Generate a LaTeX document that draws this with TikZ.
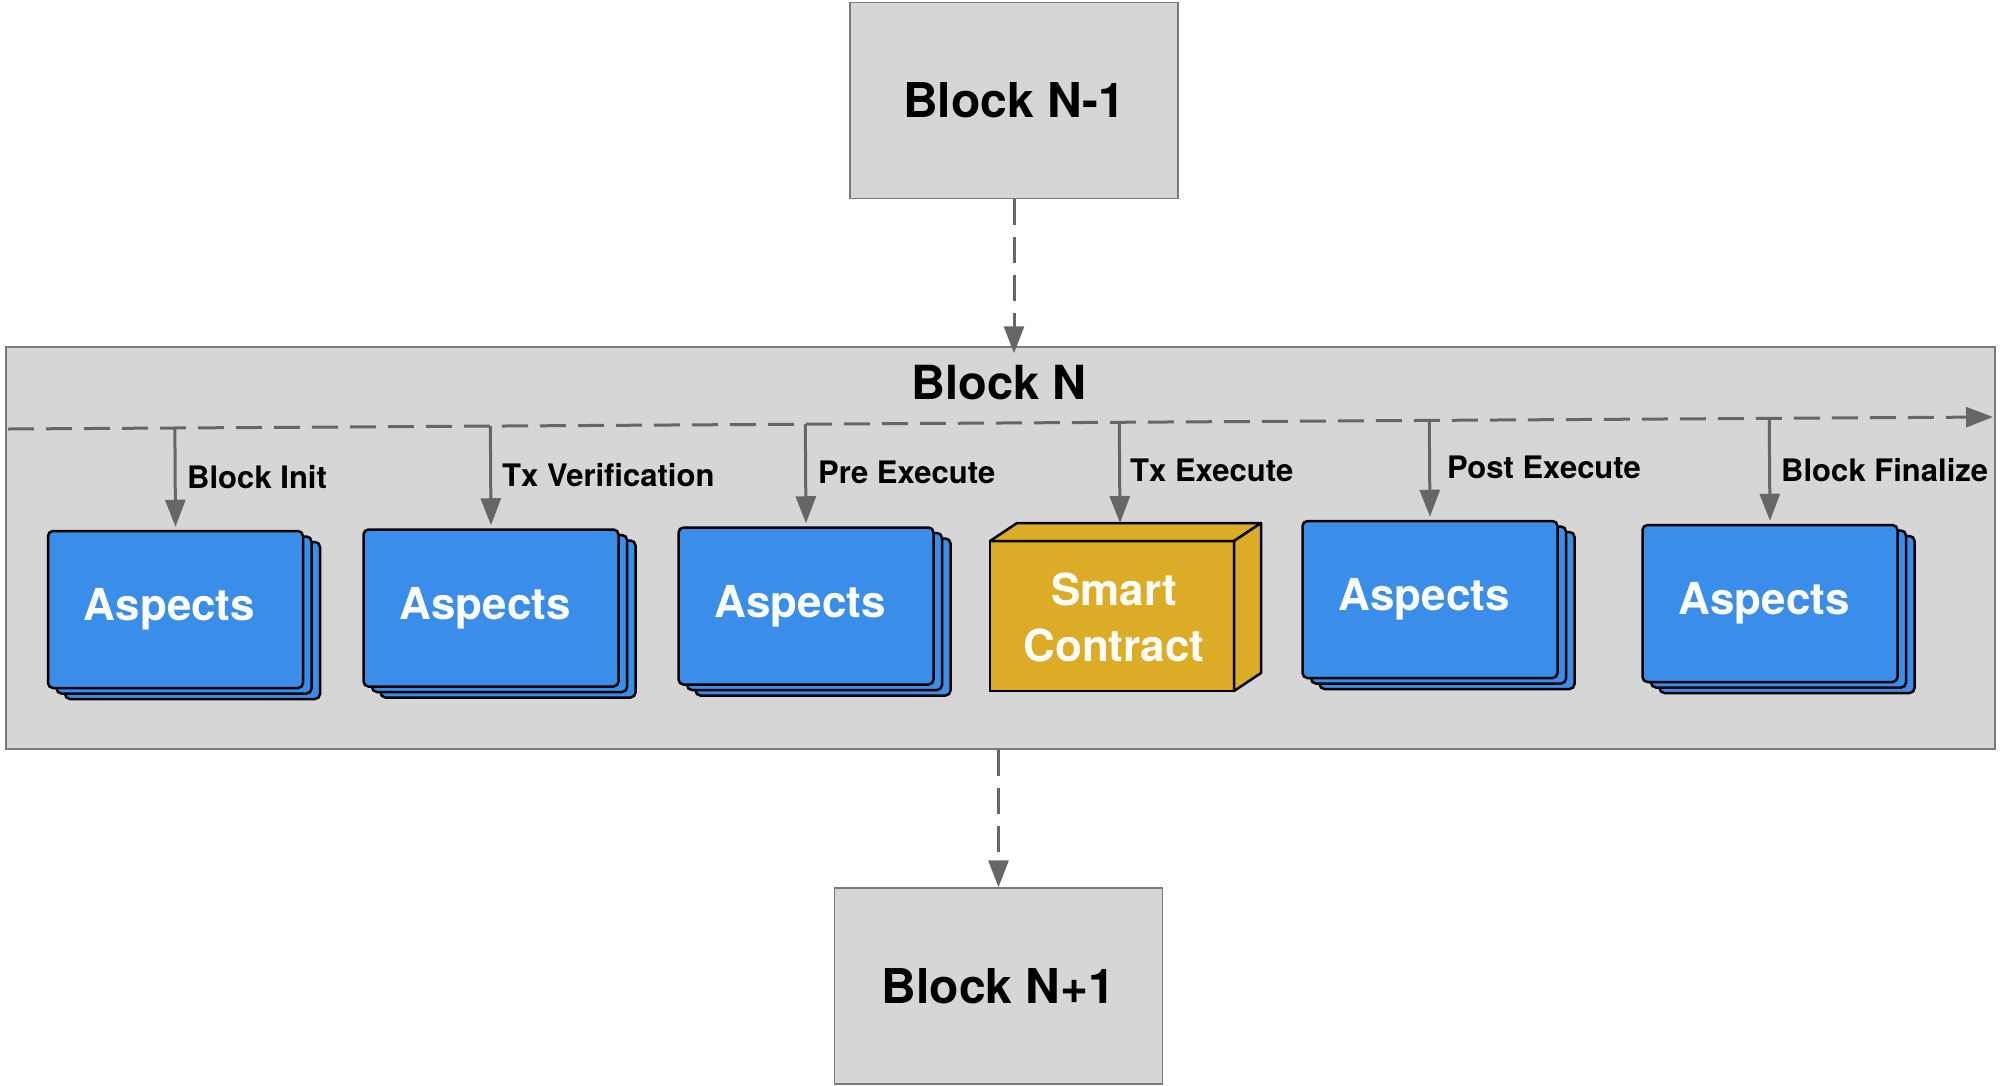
\documentclass[tikz,border=0pt]{standalone}
\usepackage{fontspec}
\setmainfont{TeX Gyre Heros}
\usetikzlibrary{arrows.meta,shadows,calc}
\definecolor{boxgray}{HTML}{D6D6D6}
\definecolor{edgegray}{HTML}{7A7A7A}
\definecolor{arrgray}{HTML}{666666}
\definecolor{aspblue}{HTML}{3B8DEA}
\definecolor{goldbox}{HTML}{DCAC26}
\begin{document}
\begin{tikzpicture}[x=1pt,y=-1pt,
 blockbox/.style={draw=edgegray, line width=1.5pt, fill=boxgray, minimum width=328pt, minimum height=196pt, font=\fontsize{48}{58}\selectfont\bfseries},
 container/.style={draw=edgegray, line width=1.5pt, fill=boxgray, minimum width=1989pt, minimum height=402pt},
 card/.style={draw=black, line width=2.5pt, fill=aspblue, rounded corners=5pt, minimum width=255pt, minimum height=157pt, text=white, font=\fontsize{44}{54}\selectfont\bfseries, double copy shadow={shadow xshift=8.5pt, shadow yshift=-5.5pt}},
 cubeface/.style={draw=black, line width=2.5pt, fill=goldbox, outer sep=0pt},
 lbl/.style={anchor=west, font=\fontsize{31}{36}\selectfont\bfseries, inner sep=0pt},
 dasharr/.style={draw=arrgray, line width=3pt, dash pattern=on 26pt off 12pt, -{Triangle[length=27pt,width=20pt]}},
 solarr/.style={draw=arrgray, line width=3pt, shorten >=3pt, -{Triangle[length=27pt,width=20pt]}}]
\useasboundingbox[fill=white] (0,0) rectangle (2000,1085);

% container
\node[container] (cont) at (1000.5,548) {};
\node[font=\fontsize{47}{56}\selectfont\bfseries] (tN) at (999,383) {Block N};

% outer blocks
\node[blockbox] (bprev) at (1014,100.5) {Block N-1};
\node[blockbox] (bnext) at (998.5,986) {Block N+1};
\coordinate (inN) at ($(bprev |- cont.north)+(0,7)$);
\draw[dasharr] (bprev.south) -- (inN);
\draw[dasharr] (bnext |- cont.south) -- (bnext.north);

% timeline
\coordinate (ls) at (8,429);
\coordinate (le) at (1993,417);
\draw[dasharr] (ls) -- (le);

% cards
\node[card] (a1) at (175.5,609.5) {\kern-12pt Aspects};
\node[card] (a2) at (491,608) {\kern-12pt Aspects};
\node[card] (a3) at (806,606) {\kern-12pt Aspects};
\node[card] (a5) at (1430,599.5) {\kern-12pt Aspects};
\node[card] (a6) at (1770,603.5) {\kern-12pt Aspects};

% smart contract cube
\node[cubeface, minimum width=244pt, minimum height=150pt] (sc) at (1112,616) {};
\draw[cubeface, line join=round] (sc.north west) -- ++(27,-18) -- ($(sc.north east)+(27,-18)$) -- (sc.north east) -- cycle;
\draw[cubeface, line join=round] (sc.north east) -- ++(27,-18) -- ($(sc.south east)+(27,-18)$) -- (sc.south east) -- cycle;
\draw[black, line width=2.5pt] (sc.north west) rectangle (sc.south east);
\node[text=white, align=center, font=\fontsize{44}{56}\selectfont\bfseries] (sctext) at (1114,617) {Smart\\Contract};
\coordinate (sctop) at ($(sc.north)+(8,-15)$);

% step arrows
\draw[solarr] ($(ls)!(a1.north)!(le)$) -- (a1.north);
\draw[solarr] ($(ls)!(a2.north)!(le)$) -- (a2.north);
\draw[solarr] ($(ls)!(a3.north)!(le)$) -- (a3.north);
\draw[solarr] ($(ls)!(sctop)!(le)$) -- (sctop);
\draw[solarr] ($(ls)!(a5.north)!(le)$) -- (a5.north);
\draw[solarr] ($(ls)!(a6.north)!(le)$) -- (a6.north);

% labels
\node[lbl] (l1) at (187,477) {Block Init};
\node[lbl] (l2) at (502,475) {Tx Verification};
\node[lbl] (l3) at (818,472) {Pre Execute};
\node[lbl] (l4) at (1130,470) {Tx Execute};
\node[lbl] (l5) at (1447,467) {Post Execute};
\node[lbl] (l6) at (1781,470) {Block Finalize};
\end{tikzpicture}
\end{document}
